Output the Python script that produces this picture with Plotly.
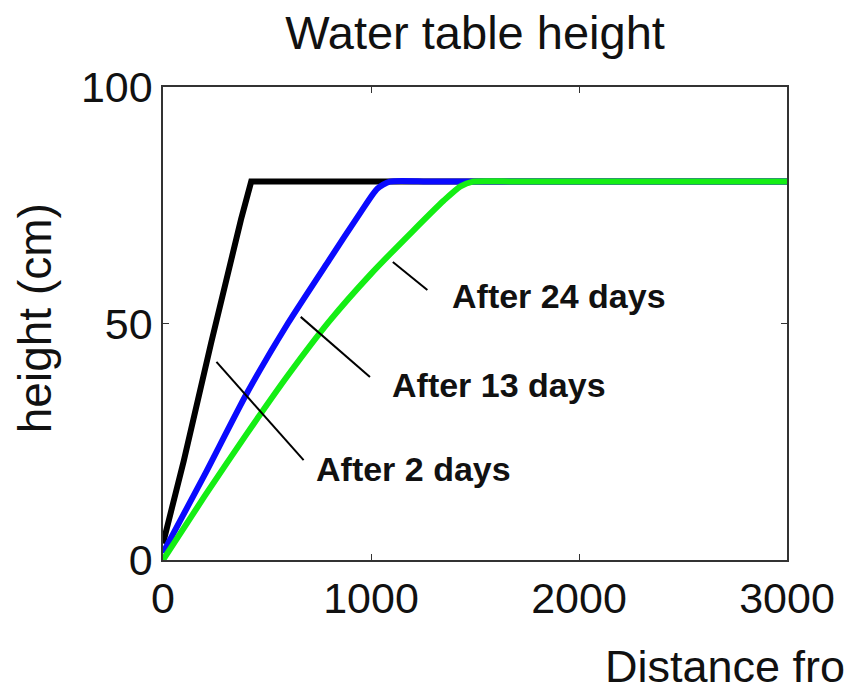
import plotly.graph_objects as go

# ---- data ----
days2_x = [0, 100, 232, 303, 375, 424, 3000]
days2_y = [3.5, 21, 46, 59.5, 72, 80, 80]

days13_x = [0, 200, 400, 600, 800, 950, 1030, 1090, 1300, 3000]
days13_y = [1.5, 18, 35, 50, 63.5, 73.5, 78.5, 80, 80, 80]

days24_x = [0, 200, 400, 600, 800, 1000, 1200, 1350, 1430, 1490, 1700, 3000]
days24_y = [0, 13.5, 26.5, 39, 50.5, 60.5, 69.5, 76, 79, 80, 80, 80]

series_names = ["After 2 days", "After 13 days", "After 24 days"]
series_colors = ["#000000", "#0a0aff", "#14ee14"]
series_shapes = ["linear", "spline", "spline"]

# pointer line endpoints (data units) and label anchors
pointer_x = [[257, 676], [662, 995], [1105, 1271]]
pointer_y = [[41.9, 21.1], [51.4, 38.7], [63.0, 57.1]]
label_x = [724, 1090, 1381]
label_y = [19.2, 37.1, 55.9]

x_ticks = [0, 1000, 2000, 3000]
y_ticks = [0, 50, 100]

fig = go.Figure()
for xs, ys, name, col, shp in zip([days2_x, days13_x, days24_x],
                                  [days2_y, days13_y, days24_y],
                                  series_names, series_colors, series_shapes):
    line = dict(color=col, width=6, shape=shp)
    if shp == "spline":
        line["smoothing"] = 0.6
    fig.add_trace(go.Scatter(x=xs, y=ys, mode="lines", name=name, line=line,
                             showlegend=False, hoverinfo="skip"))

for px, py in zip(pointer_x, pointer_y):
    fig.add_trace(go.Scatter(x=px, y=py, mode="lines",
                             line=dict(color="#000000", width=2),
                             showlegend=False, hoverinfo="skip"))

for lx, ly, name in zip(label_x, label_y, series_names):
    fig.add_annotation(x=lx, y=ly, xref="x", yref="y", text="<b>%s</b>" % name,
                       showarrow=False, xanchor="left", yanchor="middle",
                       font=dict(family="Liberation Sans, Arial", size=34, color="#111"))

axis_font = dict(family="Liberation Sans, Arial", size=43, color="#111")
fig.update_xaxes(range=[0, 3000], tickvals=x_ticks, ticktext=[str(v) for v in x_ticks],
                 showline=True, mirror="ticks", linecolor="#333", linewidth=1.5,
                 ticks="inside", ticklen=6, tickcolor="#333", tickwidth=1.2,
                 showgrid=False, zeroline=False, tickfont=axis_font)
fig.update_yaxes(range=[0, 100], tickvals=y_ticks, ticktext=[str(v) for v in y_ticks],
                 showline=True, mirror="ticks", linecolor="#333", linewidth=1.5,
                 ticks="inside", ticklen=6, tickcolor="#333", tickwidth=1.2,
                 showgrid=False, zeroline=False, tickfont=axis_font)

plot_w = 793 - 163
fig.add_annotation(x=(607 - 163) / plot_w, y=-(666 - 560) / 473, xref="paper", yref="paper",
                   text="Distance fro", showarrow=False, xanchor="left", yanchor="middle",
                   font=dict(family="Liberation Sans, Arial", size=45, color="#111"))
fig.add_annotation(x=(34 - 163) / plot_w, y=(560 - 318) / 473, xref="paper", yref="paper",
                   text="height (cm)", textangle=-90, showarrow=False,
                   xanchor="center", yanchor="middle",
                   font=dict(family="Liberation Sans, Arial", size=46, color="#111"))

fig.update_layout(
    width=847, height=692,
    margin=dict(l=163, r=54, t=87, b=132),
    paper_bgcolor="white", plot_bgcolor="white",
    title=dict(text="Water table height", x=0.5, xref="paper", xanchor="center",
               y=1 - 33 / 692, yanchor="middle",
               font=dict(family="Liberation Sans, Arial", size=47, color="#111")),
)

fig.write_html("out.html", config={"displayModeBar": False},
               post_script="document.body.style.margin='0';document.body.style.overflow='hidden';")
